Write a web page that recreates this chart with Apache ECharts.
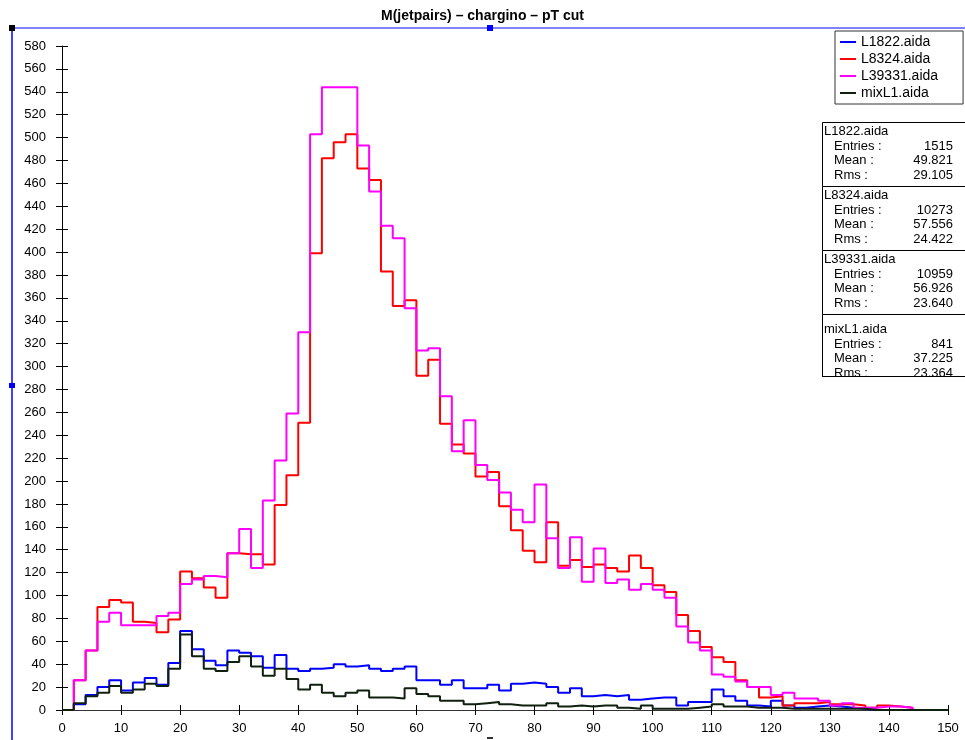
<!DOCTYPE html>
<html>
<head>
<meta charset="utf-8">
<script src="https://cdn.jsdelivr.net/npm/echarts@6/dist/echarts.min.js"></script>
<style>
html,body{margin:0;padding:0;background:#fff;}
#main{width:965px;height:740px;}
</style>
</head>
<body>
<div id="main"></div>
<script>
// Histogram bins: lower edges, width 2 (0..148)
const binWidth = 2;
const L1822  = [0,5,13,20,26,17,24,28,22,41,69,53,43,39,52,50,47,37,48,36,34,36,37,40,38,39,36,34,36,38,26,26,22,26,19,19,22,17,23,24,23,20,15,19,12,13,12,13,9,10,11,11,4,7,7,18,12,8,4,3,8,4,2,3,4,3,2,1,0,0,0,0,0,0,0];
const L8324  = [0,26,52,90,96,94,77,76,68,79,121,115,107,98,137,136,136,127,179,205,251,399,482,496,503,473,463,383,353,358,292,306,250,232,224,204,208,178,157,139,129,164,126,131,125,127,124,121,135,124,109,103,83,69,55,46,42,26,20,11,12,4,6,6,7,5,5,4,2,4,3,2,0,0,0];
const L39331 = [0,26,52,77,85,74,74,74,82,85,110,114,117,116,137,158,124,183,218,259,330,503,544,544,544,493,453,423,412,351,314,316,274,226,253,214,201,190,175,164,197,150,124,151,112,141,111,114,105,110,105,98,73,59,52,31,29,25,20,20,13,15,10,10,8,4,6,2,2,3,3,2,0,0,0];
const mixL1  = [0,6,12,15,21,15,18,23,21,36,66,47,36,34,42,47,38,30,36,27,18,22,15,12,15,17,11,11,10,19,14,12,8,8,5,6,7,5,4,4,4,6,3,4,3,4,4,2,1,4,1,1,1,2,3,5,3,3,2,2,2,1,1,1,1,1,1,1,0,0,0,0,0,0,0];

const seriesNames  = ['L1822.aida','L8324.aida','L39331.aida','mixL1.aida'];
const seriesColors = ['#0000ff','#ff0000','#ff00ff','#0f200f'];
const seriesData   = [L1822, L8324, L39331, mixL1];

const xTicks = [0,10,20,30,40,50,60,70,80,90,100,110,120,130,140,150];
const yTicks = [0,20,40,60,80,100,120,140,160,180,200,220,240,260,280,300,320,340,360,380,400,420,440,460,480,500,520,540,560,580];

const statNames   = ['L1822.aida','L8324.aida','L39331.aida','mixL1.aida'];
const statEntries = ['1515','10273','10959','841'];
const statMeans   = ['49.821','57.556','56.926','37.225'];
const statRms     = ['29.105','24.422','23.640','23.364'];

const titleText = 'M(jetpairs) – chargino – pT cut';

function stepData(vals){
  const pts = vals.map((v,i)=>[i*binWidth, v]);
  pts.push([vals.length*binWidth, vals[vals.length-1]]);
  return pts;
}

const FONT = '"Liberation Sans", Arial, Helvetica, sans-serif';
const chart = echarts.init(document.getElementById('main'), null, {renderer:'canvas'});

// stats box graphics
const statG = [];
const boxX = 822, boxTop = 122, secH = 64, boxW = 150, boxBottom = 377;
for (let k=0;k<statNames.length;k++){
  const t = boxTop + k*secH;
  statG.push({type:'rect', shape:{x:boxX+0.5,y:t+0.5,width:boxW,height:secH}, style:{fill:'#fff',stroke:'#000',lineWidth:1}, z:10});
  const rows = [
    {l:statNames[k], v:'', lx:boxX+2},
    {l:'Entries :', v:statEntries[k], lx:boxX+12},
    {l:'Mean :', v:statMeans[k], lx:boxX+12},
    {l:'Rms :', v:statRms[k], lx:boxX+12}
  ];
  const offs = [9,24,38,53];
  rows.forEach((r,j)=>{
    const yy = t+offs[j]+(k===3?6:0);
    statG.push({type:'text', x:r.lx, y:yy, style:{text:r.l, fill:'#000', font:'13px '+FONT, textVerticalAlign:'middle', textAlign:'left'}, z:11});
    if (r.v) statG.push({type:'text', x:953, y:yy, style:{text:r.v, fill:'#000', font:'13px '+FONT, textVerticalAlign:'middle', textAlign:'right'}, z:11});
  });
}
// clip the last line like the reference
statG.push({type:'rect', shape:{x:boxX, y:boxBottom, width:boxW, height:12}, style:{fill:'#fff'}, z:12});
statG.push({type:'line', shape:{x1:boxX+0.5,y1:boxBottom-0.5,x2:boxX+boxW,y2:boxBottom-0.5}, style:{stroke:'#000',lineWidth:1}, z:13});
statG.push({type:'line', shape:{x1:boxX+0.5,y1:boxTop+3*secH,x2:boxX+0.5,y2:boxBottom}, style:{stroke:'#000',lineWidth:1}, z:13});

const handles = [
  {type:'line', shape:{x1:12,y1:28,x2:965,y2:28}, style:{stroke:'#8080ff',lineWidth:2}, z:20},
  {type:'line', shape:{x1:12,y1:28,x2:12,y2:740}, style:{stroke:'#0000ff',lineWidth:1.5}, z:20},
  {type:'rect', shape:{x:9,y:25,width:6,height:6}, style:{fill:'#000'}, z:21},
  {type:'rect', shape:{x:487,y:25,width:6,height:6}, style:{fill:'#0000ff'}, z:21},
  {type:'rect', shape:{x:9,y:383,width:6,height:5}, style:{fill:'#0000ff'}, z:21},
  {type:'rect', shape:{x:487,y:737,width:6,height:2}, style:{fill:'#333'}, z:21}
];

const option = {
  animation:false,
  backgroundColor:'#fff',
  title:{text:titleText, left:'center', top:4, textStyle:{fontFamily:FONT, fontSize:14, fontWeight:'bold', color:'#000'}},
  legend:{
    orient:'vertical', left:835, top:31, itemGap:3, itemWidth:16, itemHeight:2, icon:'rect',
    padding:[4,25,4,5], borderColor:'#333', borderWidth:1, backgroundColor:'#fff',
    textStyle:{fontFamily:FONT, fontSize:14, color:'#000'},
    data:seriesNames
  },
  grid:{left:62, right:17, top:46, bottom:30},
  xAxis:[{
    type:'value', min:xTicks[0], max:xTicks[xTicks.length-1], interval:10,
    axisLine:{lineStyle:{color:'#333',width:1}},
    axisTick:{length:5, lineStyle:{color:'#000'}},
    axisLabel:{fontFamily:FONT, fontSize:13, color:'#000', margin:12},
    splitLine:{show:false}
  },{
    type:'value', position:'bottom', min:xTicks[0], max:xTicks[xTicks.length-1], interval:10,
    axisLine:{show:false}, axisTick:{inside:true, length:5, lineStyle:{color:'#000'}},
    axisLabel:{show:false}, splitLine:{show:false}
  }],
  yAxis:[{
    type:'value', min:yTicks[0], max:yTicks[yTicks.length-1], interval:20,
    axisLine:{show:true, lineStyle:{color:'#000',width:1}},
    axisTick:{show:true, length:6, lineStyle:{color:'#000'}},
    axisLabel:{fontFamily:FONT, fontSize:13, color:'#000', margin:16},
    splitLine:{show:false}
  },{
    type:'value', position:'left', min:yTicks[0], max:yTicks[yTicks.length-1], interval:20,
    axisLine:{show:false}, axisTick:{show:true, inside:true, length:6, lineStyle:{color:'#000'}},
    axisLabel:{show:false}, splitLine:{show:false}
  }],
  series: seriesNames.map((n,i)=>({
    name:n, type:'line', step:'end', showSymbol:false, symbol:'none',
    data:stepData(seriesData[i]),
    lineStyle:{color:seriesColors[i], width:2},
    itemStyle:{color:seriesColors[i]},
    z:2+i
  })),
  graphic:[...statG, ...handles]
};
chart.setOption(option);
</script>
</body>
</html>
